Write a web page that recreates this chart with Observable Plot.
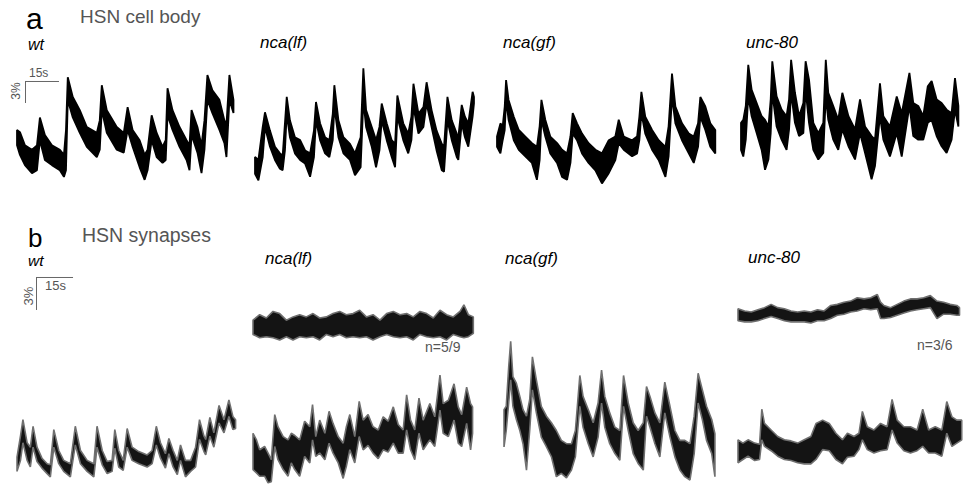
<!DOCTYPE html>
<html><head><meta charset="utf-8">
<script src="https://cdn.jsdelivr.net/npm/d3@7"></script>
<script src="https://cdn.jsdelivr.net/npm/@observablehq/plot@0.6"></script>
<style>
body{margin:0;background:#fff;}
#fig{position:relative;width:964px;height:492px;font-family:"Liberation Sans",Arial,sans-serif;overflow:hidden;background:#fff;}
.t{position:absolute;white-space:nowrap;line-height:0.8;}
.p{position:absolute;}
.p svg{overflow:visible;display:block;}
</style></head><body><div id="fig"></div>
<script>
// ---------- DATA (time in s, ΔF/F in %) ----------
// a: HSN cell body
const bodyWtT  = [0,1.3,3.5,6.6,8.8,10.1,12.3,15.4,18.9,20.7,21.6,22.4,24.6,27.7,30.8,35.2,36.5,37.4,39.6,44.0,47.1,48.8,51.0,54.1,56.3,57.6,59.4,61.6,64.2,65.6,66.4,68.6,71.7,74.8,76.1,77.0,79.6,81.4,82.7,84.0,86.2,89.3,91.5,92.4,93.7,95.5];
const bodyWtHi = [7.5,7.2,5.4,4.8,5.4,9.2,6.8,5.4,4.8,4.1,7.5,14.7,12.0,10.2,7.9,7.1,8.8,13.6,10.2,7.9,7.1,10.6,7.5,6.1,4.1,4.8,9.5,7.1,5.2,6.1,13.2,10.2,7.9,6.1,5.4,10.2,7.9,5.4,8.8,15.0,12.9,11.6,8.8,8.2,15.0,11.6];
const bodyWtLo = [5.4,4.1,2.7,1.6,2.0,6.1,3.4,2.7,2.0,1.1,2.0,11.6,9.2,7.1,5.2,3.8,4.8,10.2,7.1,4.8,4.4,7.5,5.2,2.4,0.7,2.0,6.1,3.8,3.0,3.4,9.5,7.5,5.2,3.4,2.0,6.8,4.4,1.6,4.8,11.6,9.8,7.5,5.7,3.8,11.6,9.8];

const bodyLfT  = [0,1.5,3.4,4.4,6.6,8.8,11.0,12.2,13.2,14.0,15.4,17.6,19.9,22.1,24.3,26.0,26.9,28.7,30.9,32.8,34.3,35.0,36.8,39.0,41.9,44.1,46.6,47.8,49.0,51.5,53.4,54.9,55.9,58.1,60.3,61.8,62.8,65.4,67.6,69.0,69.9,72.1,74.3,75.7,77.9,80.1,82.4,83.4,84.9,86.8,89.0,89.7,91.2,92.6,94.1,96.0,96.6];
const bodyLfHi = [3.4,3.0,7.5,9.5,7.0,4.8,3.9,3.6,8.0,11.6,8.4,6.1,5.7,4.3,3.9,7.0,10.9,8.0,6.1,5.7,9.3,13.2,8.4,6.1,5.2,3.9,6.1,15.5,9.8,7.5,5.7,7.5,10.7,8.0,5.7,5.2,11.8,8.0,6.6,8.9,13.4,9.3,10.2,13.6,9.8,7.0,5.2,4.8,11.6,8.4,6.6,6.1,10.5,8.9,8.0,12.3,11.6];
const bodyLfLo = [1.1,0.2,3.4,7.5,4.8,3.0,1.8,1.6,4.3,9.3,6.1,3.9,3.0,2.5,0.7,3.4,8.4,5.7,3.9,3.4,5.7,10.2,6.1,3.9,3.0,0.9,2.0,11.1,7.5,4.8,2.0,4.3,8.4,5.7,3.4,2.0,8.9,5.7,3.9,5.7,10.2,6.6,7.5,10.7,7.5,4.3,1.6,1.4,8.4,5.7,3.4,3.0,8.0,6.1,4.8,8.9,10.7];

const bodyGfT  = [0,1.5,2.5,3.4,4.0,5.1,7.4,9.6,12.5,15.4,17.6,18.8,19.6,21.3,23.5,26.5,28.7,30.9,32.4,33.4,35.3,37.5,40.4,43.4,46.3,49.3,52.2,53.7,55.9,59.6,61.8,62.8,63.7,65.4,68.4,71.3,74.3,75.7,77.2,78.7,81.6,84.6,86.8,88.7,89.7,91.9,94.1,96.3];
const bodyGfHi = [6.6,8.4,8.0,10.7,14.3,11.6,9.3,7.5,6.6,5.7,5.2,8.0,11.6,8.9,6.6,5.7,4.8,4.3,6.6,9.8,8.4,7.0,5.7,4.8,4.3,6.1,6.6,8.9,6.6,6.1,6.6,9.3,12.7,9.3,7.5,6.1,5.2,8.0,15.2,10.7,8.4,7.0,6.6,8.4,12.0,10.7,8.4,7.5];
const bodyGfLo = [5.2,4.3,6.1,7.5,11.6,8.9,6.1,4.8,3.9,3.0,0.7,3.4,8.9,6.6,4.3,3.0,1.1,0.7,3.0,7.0,6.1,4.3,3.0,2.0,0.2,1.6,3.4,5.7,4.8,3.9,4.3,6.1,9.8,7.0,4.8,3.4,1.1,3.9,12.0,8.4,6.1,4.3,3.0,5.2,9.3,7.5,5.2,4.3];

const bodyUncT  = [0,1.0,2.1,3.2,4.7,6.9,9.1,10.6,12.1,13.1,13.8,15.7,17.9,20.1,21.2,22.1,23.8,25.6,27.5,28.5,30.0,31.9,34.1,36.3,37.4,38.5,40.7,42.9,44.7,47.4,50.3,52.5,54.7,57.6,59.1,61.3,62.8,65.7,68.7,70.9,74.3,76.0,78.2,80.4,82.4,84.1,86.3,88.5,90.7,92.9,94.4,95.9];
const bodyUncHi = [8.2,8.6,10.5,16.1,12.7,10.9,9.1,8.6,7.7,11.4,16.6,11.8,10.0,9.1,11.4,16.8,12.3,9.1,10.9,16.6,14.1,8.2,6.8,8.2,16.8,12.3,10.5,8.6,12.3,9.1,7.3,11.4,7.7,6.4,5.9,13.6,9.1,7.7,11.8,9.5,15.0,10.9,10.5,9.1,13.2,13.9,11.4,10.9,10.0,9.5,14.3,10.5];
const bodyUncLo = [4.5,3.6,5.9,11.8,9.1,6.8,4.5,1.8,3.2,6.8,12.3,7.7,5.9,4.5,7.3,12.3,8.2,6.4,6.8,12.7,8.2,4.5,3.2,4.1,11.8,8.6,5.9,4.5,7.3,5.0,3.2,6.8,4.1,0.5,2.3,9.1,5.9,3.6,6.8,3.6,10.5,6.4,5.9,5.9,8.2,8.6,6.4,5.0,4.1,5.9,10.0,7.7];

// b: HSN synapses
const synWtT  = [0,1.4,2.4,4.1,5.4,6.5,8.1,10.1,12.2,13.5,14.9,16.9,18.9,21.6,23.6,25.7,28.4,31.1,32.4,34.5,36.5,38.5,39.6,41.2,43.0,44.6,46.6,49.3,52.7,54.7,56.4,58.1,60.1,61.5,63.2,64.9,66.2,68.2,70.3,72.3,73.9,75.7,76.4,78.1,79.7,81.8,83.8,85.8,87.4,88.5];
const synWtHi = [1.9,3.8,5.3,3.2,2.8,4.7,2.8,1.8,1.3,1.2,4.4,2.5,1.6,1.3,4.7,2.5,1.6,1.3,4.7,2.5,1.5,1.6,4.4,2.5,1.6,4.5,2.8,2.4,2.1,2.5,4.7,3.2,2.2,3.6,2.5,1.6,3.0,1.6,1.6,2.8,5.3,3.8,3.5,5.5,4.1,6.6,5.3,7.1,5.6,5.3];
const synWtLo = [0.6,1.6,3.2,1.6,1.0,2.8,1.5,0.9,0.4,0.1,2.8,1.3,0.6,0.1,3.0,1.3,0.6,0.1,2.8,1.2,0.4,0.6,2.7,1.0,0.7,2.8,1.6,1.3,1.0,1.3,3.0,1.8,0.9,2.2,1.0,0.3,1.6,0.1,0.6,1.0,3.5,2.4,2.1,3.8,2.8,5.0,4.1,5.6,4.4,4.5];

const synLfSilentT  = [0,2.7,5.4,8.1,10.8,13.5,16.2,18.9,21.6,24.3,27.0,29.7,32.4,35.1,37.8,40.5,43.2,45.9,48.6,51.4,54.1,56.8,59.5,62.2,64.9,67.6,70.3,73.0,75.7,78.4,81.1,83.8,85.4,87.2,89.2];
const synLfSilentHi = [1.8,2.3,2.0,2.6,2.4,1.8,2.1,2.3,2.1,2.4,2.0,2.1,2.4,2.6,2.3,2.4,2.7,2.1,2.3,1.8,2.4,2.6,2.3,2.4,2.1,2.6,2.4,2.0,2.7,2.3,2.1,2.6,3.2,2.3,2.1];
const synLfSilentLo = [0.5,0.2,0.3,0.2,0,0.3,0,0.3,0.2,0.3,0,0.5,0.3,0.5,0.2,0.3,0.2,0.3,0,0.3,0.5,0.3,0.2,0.3,0,0.5,0.3,0.2,0.3,0,0.5,0.3,0.2,0.3,0.6];

const synLfT  = [0,1.4,2.7,4.7,6.1,7.4,8.8,10.1,12.2,14.2,15.5,16.9,18.9,20.9,23.0,24.1,25.4,27.0,29.1,30.8,32.4,34.5,36.5,37.8,39.2,41.2,43.0,44.6,46.6,48.6,50.7,52.7,54.7,56.8,58.8,60.8,62.2,63.8,65.5,67.2,68.9,71.6,73.6,75.7,77.0,79.1,81.4,83.1,84.5,86.5,88.1,88.9];
const synLfHi = [4.7,4.1,3.2,3.5,2.9,2.3,6.4,5.3,4.4,4.1,4.7,4.5,4.1,5.8,5.3,7.3,4.4,5.9,4.7,6.7,5.6,4.4,3.8,5.3,6.4,4.4,7.6,5.9,6.4,5.3,5.0,6.2,5.8,7.1,5.5,5.0,8.2,5.9,5.0,7.9,5.9,7.4,6.2,10.0,7.4,7.7,9.2,7.1,6.4,8.9,7.4,7.1];
const synLfLo = [1.4,1.1,0.8,0.8,0.2,0.3,3.5,2.3,1.4,0.8,2.0,1.4,0.8,2.6,2.0,4.1,2.6,2.9,2.3,3.8,2.9,2.0,0.6,1.7,3.2,2.0,4.4,3.2,3.6,2.9,2.4,3.2,3.0,3.8,2.9,2.9,5.0,3.2,2.3,4.7,3.2,4.1,3.5,6.8,4.7,4.4,5.9,3.8,3.5,5.6,3.2,4.7];

const synGfT  = [0,0.9,1.9,2.7,3.6,5.0,6.4,7.7,9.1,10.4,11.5,13.1,15.1,17.2,19.2,21.2,23.2,25.3,27.3,28.9,30.7,32.0,34.1,36.1,38.1,39.5,40.8,42.8,44.9,46.9,48.4,50.3,52.3,54.3,56.4,57.7,59.1,61.1,63.1,65.1,67.2,69.2,71.2,73.2,75.3,77.0,78.6,80.3,82.0,84.1,85.4];
const synGfHi = [6.4,6.7,10.3,12.6,9.4,8.8,7.6,6.4,5.8,7.3,11.2,9.1,6.7,5.8,5.2,4.5,3.6,3.3,3.3,4.5,9.5,7.6,6.4,5.2,7.0,10.0,7.6,6.1,4.8,4.5,9.5,7.0,5.2,4.5,5.2,8.5,7.6,6.1,5.2,8.9,6.7,4.5,3.6,3.6,3.3,5.8,9.7,8.2,6.7,5.5,4.2];
const synGfLo = [3.0,4.5,7.0,9.1,6.7,5.5,4.5,3.3,0.9,4.5,8.2,6.1,3.9,3.0,2.1,0.3,0.6,0.2,0.9,2.1,6.7,4.8,3.3,2.1,3.9,7.0,4.8,3.3,2.4,1.8,6.7,4.5,2.4,1.5,0.9,5.8,4.8,3.3,2.1,6.1,3.9,2.1,0.9,0.3,0,2.4,7.0,5.5,3.6,2.4,0.3];

const synUncSilentT  = [0,2.7,5.4,8.1,10.8,13.5,16.2,18.9,21.6,24.3,27.0,29.7,32.4,35.1,37.8,40.5,43.2,45.9,48.6,51.4,54.1,56.8,58.1,59.5,62.2,64.9,67.6,70.3,73.0,75.7,78.4,81.1,83.8,86.5,89.2,90.3];
const synUncSilentHi = [1.4,1.2,1.1,1.3,1.5,1.8,1.5,1.4,1.2,1.1,1.2,1.1,1.3,1.2,1.7,1.8,2.0,2.1,2.4,2.3,2.4,2.7,2.0,1.7,1.5,1.8,2.1,2.3,2.3,2.4,2.6,2.1,2.0,1.8,1.7,1.5];
const synUncSilentLo = [0.3,0.2,0.2,0.3,0.5,0.7,0.5,0.3,0.2,0.2,0.2,0.1,0.3,0.3,0.5,0.8,0.9,1.1,1.2,1.4,1.3,1.4,0.5,0.5,0.6,0.8,1.0,1.2,1.3,1.4,1.5,0.5,0.9,0.9,0.8,0.8];

const synUncT  = [0,2.0,4.1,6.8,8.8,9.7,10.8,13.5,16.2,18.9,21.6,24.3,27.0,29.7,31.8,34.5,37.2,39.9,42.6,44.6,47.3,49.3,50.7,52.7,55.4,58.1,60.8,62.8,64.9,67.6,70.3,73.0,75.3,77.7,80.4,83.1,85.1,87.2,89.2,91.2];
const synUncHi = [2.4,2.1,2.4,2.1,2.0,5.2,3.9,3.3,2.7,2.4,2.3,2.1,2.4,2.7,3.9,4.2,3.9,3.0,2.4,3.0,2.7,3.0,5.0,3.6,3.3,3.9,3.6,6.1,4.2,3.6,3.6,3.3,5.2,3.3,3.6,3.3,5.9,4.5,4.2,4.2];
const synUncLo = [0.3,0.6,0.9,0.5,0.6,2.4,1.8,1.4,0.9,0.6,0.5,0.3,0.2,0.2,0.6,1.5,1.4,0.6,0.2,0.8,0.9,1.5,2.4,1.5,1.2,1.4,1.5,3.3,2.1,1.4,1.2,1.4,1.8,1.2,1.2,0.9,3.0,1.8,2.1,2.4];

const scaleBar = {seconds: 15, percent: 3};

// ---------- LAYOUT ----------
const fig = document.getElementById("fig");
const panelA = {pps: 2.267, ppp: 7.33, tmax: 97, ymax: 18, fill: "#000", stroke: "#000", sw: 1.8};
const panelB = {pps: 2.47, ppp: 11, tmax: 92, ymax: 13, fill: "#141414", stroke: "#6f6f6f", sw: 1.6};

function place(node, left, top) {
  const d = document.createElement("div");
  d.className = "p";
  d.style.left = left + "px";
  d.style.top = top + "px";
  d.appendChild(node);
  fig.appendChild(d);
}
// text positioned by its baseline (line-height 0.8 => box top = baseline - 0.7465em)
function text(str, left, baseline, size, opts = {}) {
  const d = document.createElement("div");
  d.className = "t";
  d.textContent = str;
  d.style.left = left + "px";
  d.style.top = (baseline - 0.7465 * size) + "px";
  d.style.fontSize = size + "px";
  d.style.color = opts.color || "#000";
  if (opts.italic) d.style.fontStyle = "italic";
  fig.appendChild(d);
}
function vtext(str, cx, cy, size, color) {
  const d = document.createElement("div");
  d.className = "t";
  d.textContent = str;
  d.style.left = cx + "px";
  d.style.top = cy + "px";
  d.style.fontSize = size + "px";
  d.style.color = color;
  d.style.transform = "translate(-50%,-50%) rotate(-90deg)";
  fig.appendChild(d);
}
function trace(T, Hi, Lo, P, left, base) {
  const data = T.map((t, i) => ({t, hi: Hi[i], lo: Lo[i]}));
  const w = P.tmax * P.pps, h = P.ymax * P.ppp;
  const svg = Plot.plot({
    width: w, height: h, margin: 0,
    x: {domain: [0, P.tmax], axis: null},
    y: {domain: [0, P.ymax], axis: null},
    marks: [Plot.areaY(data, {x: "t", y1: "lo", y2: "hi", fill: P.fill, stroke: P.stroke, strokeWidth: P.sw, strokeLinejoin: "miter", curve: "linear"})]
  });
  place(svg, left, base - h);
}
function bar(P, left, top) {
  const w = scaleBar.seconds * P.pps, h = scaleBar.percent * P.ppp;
  const svg = Plot.plot({
    width: w, height: h, margin: 0,
    x: {domain: [0, scaleBar.seconds], axis: null},
    y: {domain: [0, scaleBar.percent], axis: null},
    marks: [
      Plot.ruleY([scaleBar.percent], {x1: 0, x2: scaleBar.seconds, stroke: "#666", strokeWidth: 1}),
      Plot.ruleX([0], {y1: 0, y2: scaleBar.percent, stroke: "#666", strokeWidth: 1})
    ]
  });
  place(svg, left, top);
}

// panel a
text("a", 26, 29, 30);
text("HSN cell body", 80, 23, 19, {color: "#555"});
text("wt", 28, 50.5, 16, {italic: true});
text("nca(lf)", 260, 49, 17, {italic: true});
text("nca(gf)", 503, 49, 17, {italic: true});
text("unc-80", 746, 49, 17, {italic: true});
bar(panelA, 25, 81);
text(scaleBar.seconds + "s", 29, 78, 12, {color: "#555"});
vtext(scaleBar.percent + "%", 17, 91, 12, "#555");

trace(bodyWtT, bodyWtHi, bodyWtLo, panelA, 17, 185);
trace(bodyLfT, bodyLfHi, bodyLfLo, panelA, 255, 181.7);
trace(bodyGfT, bodyGfHi, bodyGfLo, panelA, 496.7, 185);
trace(bodyUncT, bodyUncHi, bodyUncLo, panelA, 741, 183.3);

// panel b
text("b", 28, 247, 26);
text("HSN synapses", 82, 243, 19.5, {color: "#555"});
text("wt", 28, 267, 15.5, {italic: true});
text("nca(lf)", 265, 265, 17, {italic: true});
text("nca(gf)", 505, 265, 17, {italic: true});
text("unc-80", 748, 264, 17, {italic: true});
bar(panelB, 36, 277);
text(scaleBar.seconds + "s", 45, 291, 13, {color: "#555"});
vtext(scaleBar.percent + "%", 29, 296, 13, "#555");

trace(synLfSilentT, synLfSilentHi, synLfSilentLo, panelB, 253.3, 340);
text("n=5/9", 425, 352, 14, {color: "#555"});
trace(synUncSilentT, synUncSilentHi, synUncSilentLo, panelB, 738.3, 325);
text("n=3/6", 917, 350, 14, {color: "#555"});

trace(synWtT, synWtHi, synWtLo, panelB, 16.7, 478);
trace(synLfT, synLfHi, synLfLo, panelB, 253.3, 485);
trace(synGfT, synGfHi, synGfLo, panelB, 504.3, 480);
trace(synUncT, synUncHi, synUncLo, panelB, 738.3, 466.7);
</script>
</body></html>
